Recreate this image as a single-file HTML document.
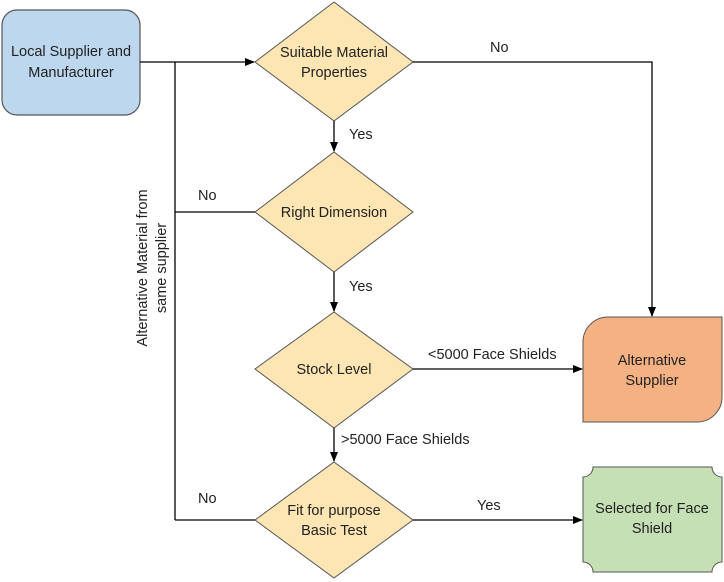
<!DOCTYPE html>
<html><head><style>body{margin:0;background:#fff}svg{display:block}text{font-family:"Liberation Sans",sans-serif;font-size:14.5px;fill:#222}</style></head>
<body>
<svg width="724" height="582" viewBox="0 0 724 582">
<defs><marker id="a" markerWidth="10" markerHeight="8" refX="9" refY="4" orient="auto" markerUnits="userSpaceOnUse"><path d="M0,0L10,4L0,8z" fill="#000"/></marker></defs>
<rect x="2" y="10" width="138" height="105" rx="15" fill="#bdd7ee" stroke="#555" stroke-width="1.2"/>
<text x="71" y="56" text-anchor="middle">Local Supplier and</text>
<text x="71" y="77" text-anchor="middle">Manufacturer</text>
<g fill="#fde6b3" stroke="#555" stroke-width="1">
<polygon points="334,2 413,62 334,121 255,62"/>
<polygon points="334,152 413,212 334,272 255,212"/>
<polygon points="334,312 413,369 334,428 255,369"/>
<polygon points="334,462 413,520 334,578 255,520"/>
</g>
<text x="334" y="57" text-anchor="middle">Suitable Material</text>
<text x="334" y="77" text-anchor="middle">Properties</text>
<text x="334" y="217" text-anchor="middle">Right Dimension</text>
<text x="334" y="374" text-anchor="middle">Stock Level</text>
<text x="334" y="515" text-anchor="middle">Fit for purpose</text>
<text x="334" y="535" text-anchor="middle">Basic Test</text>
<path d="M608,317 H722 V397 A25,25 0 0 1 697,422 H583 V342 A25,25 0 0 1 608,317 Z" fill="#f4b183" stroke="#555" stroke-width="1"/>
<text x="652" y="365" text-anchor="middle">Alternative</text>
<text x="652" y="385" text-anchor="middle">Supplier</text>
<path d="M593,467 H712 A10,10 0 0 0 722,477 V562 A10,10 0 0 0 712,572 H593 A10,10 0 0 0 583,562 V477 A10,10 0 0 0 593,467 Z" fill="#c5e0b4" stroke="#555" stroke-width="1"/>
<text x="652" y="513" text-anchor="middle">Selected for Face</text>
<text x="652" y="533" text-anchor="middle">Shield</text>
<g stroke="#000" stroke-width="1.3" fill="none">
<line x1="140" y1="62" x2="254" y2="62" marker-end="url(#a)"/>
<line x1="175" y1="62" x2="175" y2="520"/>
<line x1="175" y1="212" x2="255" y2="212"/>
<line x1="175" y1="520" x2="255" y2="520"/>
<line x1="334" y1="121" x2="334" y2="151" marker-end="url(#a)"/>
<line x1="334" y1="272" x2="334" y2="311" marker-end="url(#a)"/>
<line x1="334" y1="428" x2="334" y2="461" marker-end="url(#a)"/>
<polyline points="413,62 652,62 652,316" marker-end="url(#a)"/>
<line x1="413" y1="369" x2="582" y2="369" marker-end="url(#a)"/>
<line x1="413" y1="520" x2="582" y2="520" marker-end="url(#a)"/>
</g>
<text x="490" y="52">No</text>
<text x="349" y="139">Yes</text>
<text x="198" y="200">No</text>
<text x="349" y="291">Yes</text>
<text x="428" y="359">&lt;5000 Face Shields</text>
<text x="341" y="444">&gt;5000 Face Shields</text>
<text x="198" y="503">No</text>
<text x="477" y="510">Yes</text>
<text transform="translate(147,268) rotate(-90)" text-anchor="middle">Alternative Material from</text>
<text transform="translate(166,268) rotate(-90)" text-anchor="middle">same supplier</text>
</svg>
</body></html>
